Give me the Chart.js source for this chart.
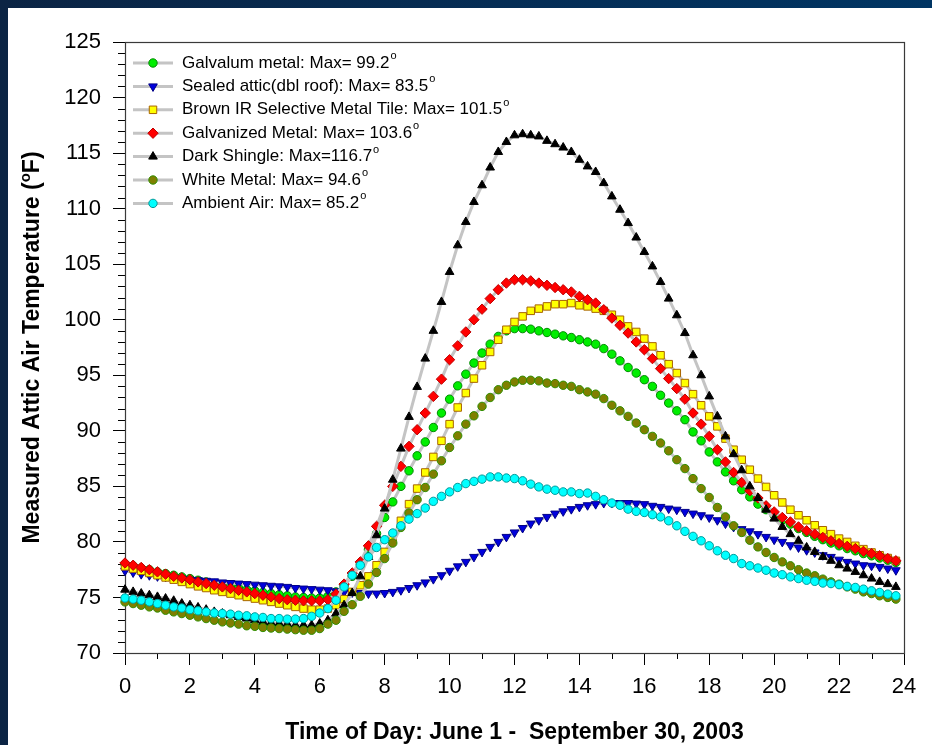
<!DOCTYPE html>
<html>
<head>
<meta charset="utf-8">
<script src="https://cdn.jsdelivr.net/npm/chart.js@4.4.1/dist/chart.umd.min.js"></script>
<style>
  html, body { margin: 0; padding: 0; background: #fff; }
  canvas { display: block; }
</style>
</head>
<body>
<canvas id="attic" width="932" height="745"></canvas>
<script>
// Attic air temperature, averaged by time of day (15 min steps)

const hours = [
  0, 0.25, 0.5, 0.75, 1, 1.25, 1.5, 1.75,
  2, 2.25, 2.5, 2.75, 3, 3.25, 3.5, 3.75,
  4, 4.25, 4.5, 4.75, 5, 5.25, 5.5, 5.75,
  6, 6.25, 6.5, 6.75, 7, 7.25, 7.5, 7.75,
  8, 8.25, 8.5, 8.75, 9, 9.25, 9.5, 9.75,
  10, 10.25, 10.5, 10.75, 11, 11.25, 11.5, 11.75,
  12, 12.25, 12.5, 12.75, 13, 13.25, 13.5, 13.75,
  14, 14.25, 14.5, 14.75, 15, 15.25, 15.5, 15.75,
  16, 16.25, 16.5, 16.75, 17, 17.25, 17.5, 17.75,
  18, 18.25, 18.5, 18.75, 19, 19.25, 19.5, 19.75,
  20, 20.25, 20.5, 20.75, 21, 21.25, 21.5, 21.75,
  22, 22.25, 22.5, 22.75, 23, 23.25, 23.5, 23.75
];

const galvalum = [
  78.0, 77.85, 77.65, 77.5, 77.3, 77.15, 77.0, 76.85,
  76.7, 76.55, 76.4, 76.25, 76.1, 75.95, 75.85, 75.7,
  75.6, 75.45, 75.35, 75.25, 75.15, 75.05, 75.0, 74.95,
  74.95, 75.1, 75.5, 76.1, 76.9, 78.0, 79.3, 80.75,
  82.2, 83.6, 85.0, 86.4, 87.75, 89.0, 90.3, 91.6,
  92.85, 94.05, 95.1, 96.1, 97.0, 97.8, 98.5, 99.0,
  99.2, 99.2, 99.15, 99.0, 98.85, 98.7, 98.55, 98.4,
  98.2, 98.0, 97.8, 97.4, 96.9, 96.3, 95.7, 95.2,
  94.6, 94.0, 93.2, 92.5, 91.8, 91.0, 89.9, 89.1,
  88.1, 87.2, 86.3, 85.5, 84.7, 84.05, 83.4, 82.9,
  82.4, 81.95, 81.6, 81.2, 80.85, 80.5, 80.2, 79.9,
  79.65, 79.4, 79.2, 78.95, 78.75, 78.55, 78.35, 78.15
];

const sealedAttic = [
  77.4, 77.25, 77.1, 77.0, 76.9, 76.85, 76.75, 76.7,
  76.6, 76.55, 76.5, 76.45, 76.35, 76.3, 76.25, 76.2,
  76.15, 76.1, 76.05, 76.0, 75.95, 75.85, 75.8, 75.75,
  75.7, 75.65, 75.55, 75.5, 75.45, 75.4, 75.35, 75.35,
  75.4, 75.5, 75.65, 75.85, 76.1, 76.35, 76.65, 77.0,
  77.4, 77.8, 78.2, 78.65, 79.1, 79.55, 80.0, 80.45,
  80.85, 81.25, 81.65, 81.95, 82.25, 82.55, 82.75, 82.95,
  83.15, 83.3, 83.4, 83.5, 83.5, 83.5, 83.5, 83.45,
  83.4, 83.25, 83.15, 83.0, 82.9, 82.7, 82.55, 82.4,
  82.2, 81.95, 81.65, 81.35, 81.15, 80.95, 80.7, 80.45,
  80.2, 80.0, 79.7, 79.5, 79.25, 79.05, 78.8, 78.65,
  78.4, 78.2, 78.05, 77.9, 77.85, 77.75, 77.6, 77.45
];

const brownIR = [
  77.8, 77.6, 77.4, 77.2, 77.0, 76.8, 76.6, 76.4,
  76.2, 76.0, 75.85, 75.65, 75.5, 75.35, 75.2, 75.05,
  74.9, 74.75, 74.6, 74.45, 74.3, 74.15, 74.0, 73.9,
  73.9, 74.0, 74.3, 74.85, 75.5, 76.1, 76.9, 77.9,
  79.1, 80.4, 81.9, 83.4, 84.8, 86.25, 87.65, 89.1,
  90.6, 92.1, 93.4, 94.7, 95.9, 97.1, 98.2, 99.1,
  99.8, 100.3, 100.8, 101.0, 101.2, 101.4, 101.4, 101.5,
  101.3, 101.2, 101.0, 100.8, 100.45, 100.0, 99.4, 98.9,
  98.3, 97.6, 96.8, 96.0, 95.2, 94.3, 93.3, 92.3,
  91.3, 90.4, 89.3, 88.3, 87.4, 86.5, 85.7, 84.95,
  84.2, 83.55, 82.9, 82.4, 81.95, 81.5, 81.05, 80.7,
  80.3, 80.0, 79.65, 79.35, 79.05, 78.8, 78.55, 78.3
];

const galvanized = [
  78.1, 77.9, 77.7, 77.5, 77.3, 77.1, 76.9, 76.75,
  76.6, 76.4, 76.25, 76.1, 75.95, 75.8, 75.65, 75.5,
  75.35, 75.2, 75.05, 74.9, 74.8, 74.75, 74.7, 74.7,
  74.7, 74.8, 75.3, 76.2, 77.2, 78.2, 79.65, 81.4,
  83.3, 85.0, 86.8, 88.6, 90.1, 91.6, 93.1, 94.65,
  96.4, 97.65, 98.9, 100.0, 100.95, 101.9, 102.7, 103.3,
  103.6, 103.6, 103.5, 103.3, 103.1, 102.9, 102.7, 102.5,
  102.1, 101.8, 101.5, 100.9, 100.15, 99.5, 98.8, 98.0,
  97.3, 96.5, 95.6, 94.7, 93.8, 92.85, 91.6, 90.6,
  89.5, 88.3, 87.2, 86.25, 85.35, 84.6, 83.95, 83.25,
  82.7, 82.2, 81.8, 81.35, 81.0, 80.7, 80.4, 80.1,
  79.85, 79.6, 79.4, 79.15, 78.95, 78.75, 78.5, 78.3
];

const darkShingle = [
  75.7, 75.5, 75.35, 75.2, 75.05, 74.9, 74.7, 74.45,
  74.3, 74.1, 73.9, 73.7, 73.55, 73.4, 73.25, 73.1,
  72.95, 72.8, 72.7, 72.65, 72.6, 72.5, 72.5, 72.5,
  72.65, 72.95, 73.55, 74.3, 75.4, 76.9, 78.65, 80.6,
  83.0, 85.6, 88.4, 91.25, 93.95, 96.5, 99.0, 101.6,
  104.3, 106.7, 108.8, 110.6, 112.1, 113.7, 115.1, 116.0,
  116.6, 116.7, 116.6, 116.5, 116.1, 115.8, 115.5, 115.1,
  114.4, 113.8, 113.3, 112.3, 111.1, 109.9, 108.7, 107.4,
  106.1, 104.8, 103.4, 101.9, 100.4, 98.8, 96.8, 95.0,
  93.1, 91.3, 89.5, 87.9, 86.45, 85.0, 83.95, 82.9,
  82.1, 81.35, 80.7, 80.1, 79.5, 79.1, 78.65, 78.3,
  77.9, 77.6, 77.3, 77.0, 76.7, 76.4, 76.2, 75.95
];

const whiteMetal = [
  74.6, 74.45, 74.3, 74.15, 74.05, 73.85, 73.7, 73.55,
  73.4, 73.25, 73.1, 72.95, 72.8, 72.7, 72.6, 72.45,
  72.4, 72.3, 72.25, 72.2, 72.15, 72.1, 72.05, 72.05,
  72.2, 72.6, 72.95, 73.75, 74.35, 75.1, 76.2, 77.25,
  78.5, 79.9, 81.3, 82.6, 83.8, 84.9, 86.1, 87.3,
  88.5, 89.55, 90.6, 91.35, 92.2, 93.0, 93.7, 94.1,
  94.4, 94.55, 94.55, 94.5, 94.3, 94.25, 94.1, 94.0,
  93.7, 93.5, 93.3, 92.9, 92.3, 91.8, 91.3, 90.7,
  90.1, 89.5, 88.9, 88.2, 87.4, 86.6, 85.7, 84.8,
  84.0, 83.1, 82.25, 81.45, 80.85, 80.15, 79.55, 79.05,
  78.6, 78.2, 77.85, 77.5, 77.2, 76.95, 76.65, 76.4,
  76.2, 75.95, 75.75, 75.5, 75.35, 75.15, 75.0, 74.85
];

const ambientAir = [
  74.95, 74.85, 74.75, 74.6, 74.45, 74.3, 74.15, 74.05,
  73.9, 73.8, 73.7, 73.6, 73.55, 73.5, 73.4, 73.35,
  73.25, 73.2, 73.1, 73.1, 73.05, 73.05, 73.1, 73.3,
  73.6, 74.0, 74.75, 75.95, 77.0, 77.9, 78.65, 79.5,
  80.2, 80.8, 81.45, 82.05, 82.55, 83.05, 83.65, 84.1,
  84.5, 84.9, 85.25, 85.45, 85.65, 85.85, 85.85, 85.75,
  85.7, 85.5, 85.2, 84.95, 84.75, 84.65, 84.5, 84.5,
  84.35, 84.4, 84.1, 83.8, 83.5, 83.3, 82.95, 82.75,
  82.65, 82.45, 82.25, 81.9, 81.45, 80.95, 80.5, 80.1,
  79.65, 79.2, 78.8, 78.5, 78.05, 77.85, 77.65, 77.45,
  77.2, 77.05, 76.85, 76.7, 76.55, 76.45, 76.3, 76.25,
  76.15, 76.0, 75.9, 75.75, 75.6, 75.45, 75.3, 75.15
];

const seriesLabels = [
  'Galvalum metal: Max= 99.2',
  'Sealed attic(dbl roof): Max= 83.5',
  'Brown IR Selective Metal Tile: Max= 101.5',
  'Galvanized Metal: Max= 103.6',
  'Dark Shingle: Max=116.7',
  'White Metal: Max= 94.6',
  'Ambient Air: Max= 85.2'
];

const xTitle = 'Time of Day: June 1 -  September 30, 2003';
const yTitle = 'Measured Attic Air Temperature (';

const FONT = '"Liberation Sans", Arial, Helvetica, sans-serif';
const LINE_GREY = '#c4c4c4';

function toPoints(values) {
  return values.map((v, i) => ({ x: hours[i], y: v }));
}

// marker look for each series, same order as the legend
const markerStyles = [
  { style: 'circle', radius: 4.2, fill: '#00ee00', border: '#008a00', rot: 0 },
  { style: 'triangle', radius: 5, fill: '#0000dd', border: '#000088', rot: 180 },
  { style: 'rect', radius: 5.3, fill: '#ffff00', border: '#a86400', rot: 0 },
  { style: 'rectRot', radius: 5.2, fill: '#ff0000', border: '#c00000', rot: 0 },
  { style: 'triangle', radius: 5, fill: '#000000', border: '#000000', rot: 0 },
  { style: 'circle', radius: 4.2, fill: '#7f7f00', border: '#2f8f00', rot: 0 },
  { style: 'circle', radius: 4.2, fill: '#00ffff', border: '#009a9a', rot: 0 }
];

const seriesValues = [galvalum, sealedAttic, brownIR, galvanized, darkShingle, whiteMetal, ambientAir];

const datasets = seriesValues.map((vals, i) => {
  const m = markerStyles[i];
  return {
    label: seriesLabels[i],
    data: toPoints(vals),
    borderColor: LINE_GREY,
    borderWidth: 3,
    pointStyle: m.style,
    pointRadius: m.radius,
    pointRotation: m.rot,
    pointBackgroundColor: m.fill,
    pointBorderColor: m.border,
    pointBorderWidth: 1,
    tension: 0,
    fill: false,
    clip: false,
    order: seriesValues.length - i // later series sit on top
  };
});

const pagePlugin = {
  id: 'pageBackground',
  beforeDraw(chart) {
    const ctx = chart.ctx;
    const g = ctx.createLinearGradient(0, 0, chart.width, 0);
    g.addColorStop(0, '#0b2444');
    g.addColorStop(1, '#003563');
    ctx.save();
    ctx.fillStyle = g;
    ctx.fillRect(0, 0, chart.width, chart.height);
    ctx.fillStyle = '#ffffff';
    ctx.fillRect(8, 8, chart.width - 8, chart.height - 8);
    ctx.restore();
  }
};

const framePlugin = {
  id: 'frameAndMinorTicks',
  beforeDatasetsDraw(chart) {
    const { ctx, chartArea: a, scales } = chart;
    ctx.save();
    ctx.strokeStyle = '#000';
    ctx.lineWidth = 1;
    ctx.beginPath();
    for (let h = 1; h < 24; h += 2) {
      const px = Math.round(scales.x.getPixelForValue(h)) + 0.5;
      ctx.moveTo(px, a.bottom);
      ctx.lineTo(px, a.bottom + 6);
    }
    for (let t = 71; t < 125; t++) {
      if (t % 5 === 0) continue;
      const py = Math.round(scales.y.getPixelForValue(t)) + 0.5;
      ctx.moveTo(a.left - 7, py);
      ctx.lineTo(a.left, py);
    }
    ctx.stroke();
    ctx.strokeStyle = '#3a3a3a';
    ctx.lineWidth = 1.2;
    ctx.strokeRect(a.left + 0.5, a.top + 0.5, a.right - a.left, a.bottom - a.top);
    ctx.restore();
  }
};

const titlePlugin = {
  id: 'axisTitles',
  afterDraw(chart) {
    const { ctx, chartArea: a } = chart;
    ctx.save();
    ctx.fillStyle = '#000';
    ctx.textBaseline = 'middle';
    ctx.font = 'bold 23px ' + FONT;
    ctx.textAlign = 'center';
    ctx.fillText(xTitle, (a.left + a.right) / 2, 733);

    // rotated y title with superscript degree mark
    ctx.translate(33, (a.top + a.bottom) / 2);
    ctx.rotate(-Math.PI / 2);
    const mainW = ctx.measureText(yTitle).width;
    ctx.font = 'bold 15px ' + FONT;
    const supW = ctx.measureText('o').width;
    ctx.font = 'bold 23px ' + FONT;
    const endW = ctx.measureText('F)').width;
    let x = -(mainW + supW + endW) / 2;
    ctx.textAlign = 'left';
    ctx.fillText(yTitle, x, 0);
    x += mainW;
    ctx.font = 'bold 15px ' + FONT;
    ctx.fillText('o', x, -7);
    x += supW;
    ctx.font = 'bold 23px ' + FONT;
    ctx.fillText('F)', x, 0);
    ctx.restore();
  }
};

const legendPlugin = {
  id: 'insideLegend',
  afterDatasetsDraw(chart) {
    const ctx = chart.ctx;
    ctx.save();
    ctx.textBaseline = 'middle';
    ctx.textAlign = 'left';
    seriesLabels.forEach((label, i) => {
      const y = 63 + i * 23.4;
      ctx.strokeStyle = LINE_GREY;
      ctx.lineWidth = 3;
      ctx.beginPath();
      ctx.moveTo(133, y);
      ctx.lineTo(173, y);
      ctx.stroke();

      const m = markerStyles[i];
      ctx.fillStyle = m.fill;
      ctx.strokeStyle = m.border;
      ctx.lineWidth = 1;
      Chart.helpers.drawPoint(ctx, { pointStyle: m.style, radius: m.radius, rotation: m.rot, borderWidth: 1 }, 153, y);

      ctx.fillStyle = '#000';
      ctx.font = '17px ' + FONT;
      ctx.fillText(label, 182, y);
      const w = ctx.measureText(label).width;
      ctx.font = '11px ' + FONT;
      ctx.fillText('o', 182 + w + 1, y - 7);
    });
    ctx.restore();
  }
};

new Chart(document.getElementById('attic'), {
  type: 'line',
  data: { datasets },
  options: {
    responsive: false,
    devicePixelRatio: 1,
    animation: false,
    layout: { padding: { left: 0, top: 42, right: 28, bottom: 0 } },
    plugins: { legend: { display: false }, tooltip: { enabled: false } },
    scales: {
      x: {
        type: 'linear',
        min: 0,
        max: 24,
        afterFit: (scale) => { scale.height = 92; },
        border: { display: false },
        grid: { drawOnChartArea: false, drawTicks: true, tickLength: 12, tickColor: '#000' },
        ticks: { stepSize: 2, color: '#000', font: { family: FONT, size: 22 }, padding: 9, maxRotation: 0 }
      },
      y: {
        min: 70,
        max: 125,
        afterFit: (scale) => { scale.width = 125; },
        border: { display: false },
        grid: { drawOnChartArea: false, drawTicks: true, tickLength: 12, tickColor: '#000' },
        ticks: { stepSize: 5, color: '#000', font: { family: FONT, size: 22 }, padding: 12 }
      }
    }
  },
  plugins: [pagePlugin, framePlugin, titlePlugin, legendPlugin]
});
</script>
</body>
</html>
